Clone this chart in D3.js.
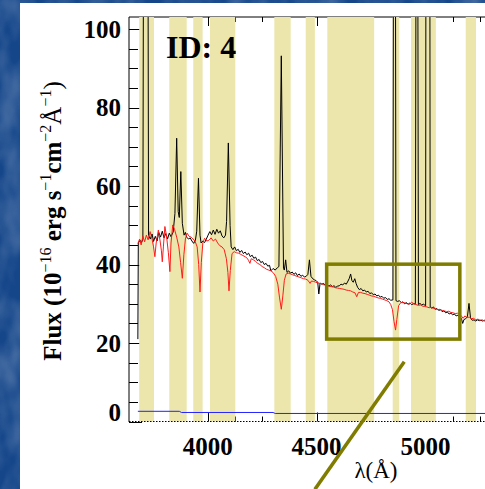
<!DOCTYPE html>
<html>
<head>
<meta charset="utf-8">
<script src="https://cdn.jsdelivr.net/npm/d3@7"></script>
<style>
  html, body { margin: 0; padding: 0; background: #1a4d8f; }
  svg { display: block; }
</style>
</head>
<body>
<svg id="chart" width="485" height="489"></svg>
<script>
// Fitting windows (Å): start / end of each shaded range
const bandStart = [3686, 3824, 3934, 4011, 4306, 4450, 4549, 4849, 4933, 5184];
const bandEnd   = [3754, 3904, 3977, 4127, 4381, 4492, 4764, 4879, 5047, 5231];

// Observed spectrum: wavelength (Å) and flux (1e-16 erg/s/cm2/Å)
const obsWave = [3680,3682,3690,3697,3703,3716,3729,3737,3745,3752,3760,3768,3776,3784,3792,3800,3808,3816,3824,3832,3842,3850,3858,3865,3870,3877,3884,3892,3898,3904,3912,3920,3928,3936,3944,3950,3958,3965,3970,3978,3986,3994,4002,4010,4018,4026,4034,4042,4050,4058,4066,4074,4082,4087,4095,4103,4108,4116,4124,4132,4140,4148,4156,4164,4172,4180,4188,4196,4204,4212,4220,4228,4236,4244,4252,4260,4268,4276,4284,4290,4300,4310,4320,4327,4338,4348,4352,4358,4364,4372,4380,4388,4396,4404,4412,4420,4428,4436,4444,4452,4460,4467,4474,4482,4490,4498,4505,4510,4516,4524,4532,4540,4548,4556,4564,4572,4580,4588,4596,4604,4612,4620,4628,4636,4644,4650,4656,4662,4668,4675,4681,4688,4696,4704,4712,4720,4728,4736,4744,4752,4760,4768,4776,4784,4792,4800,4808,4816,4824,4832,4840,4850,4857,4864,4872,4880,4888,4896,4904,4912,4920,4928,4936,4944,4953,4960,4967,4974,4982,4990,5000,5010,5021,5028,5036,5044,5052,5060,5068,5076,5084,5092,5100,5108,5116,5124,5132,5140,5148,5156,5164,5170,5176,5184,5192,5199,5206,5214,5222,5230,5238,5246,5254,5262,5270,5278,5290];
const obsFlux = [21.0,45.5,46.2,45.6,46.5,420,47.5,46.5,47.8,45.9,47.2,46.0,48.2,47.0,48.5,46.8,47.9,46.5,48.0,47.1,48.3,53.0,72.2,53.5,52.0,63.7,50.5,47.5,48.2,47.0,46.5,46.8,46.0,45.4,46.2,48.5,62.0,47.5,45.5,46.0,45.6,46.5,47.5,48.4,47.6,48.8,47.7,49.0,48.0,48.6,47.3,46.8,47.5,51.0,71.0,50.0,44.5,43.8,44.5,43.5,43.9,43.1,43.6,42.8,43.2,42.5,42.9,42.0,42.4,41.6,41.9,41.0,41.3,40.5,40.8,40.0,40.3,39.6,39.8,38.4,39.0,38.6,39.2,39.5,93.2,39.0,38.6,41.2,38.0,38.4,37.8,38.1,37.5,37.9,37.2,37.6,37.0,37.3,36.8,37.0,37.5,41.2,37.0,36.4,36.1,35.9,35.5,32.5,35.3,35.0,35.2,34.7,35.0,34.5,34.8,34.4,34.6,34.2,34.5,34.6,35.0,34.8,35.3,35.0,35.8,36.5,37.6,35.9,35.5,36.4,35.2,34.2,33.6,33.9,33.3,33.5,33.0,33.2,32.6,32.8,32.3,32.5,32.0,32.2,31.7,31.9,31.4,31.6,31.1,31.3,30.9,31.0,300,30.8,30.6,30.8,30.3,30.5,30.0,30.3,29.9,30.2,29.8,30.0,30.0,250,29.8,30.1,29.7,29.9,29.5,700,29.2,28.9,29.2,28.6,28.8,28.3,28.5,28.0,28.2,27.7,27.9,27.4,27.6,27.2,27.4,26.9,27.1,26.6,26.3,25.0,26.0,26.2,26.8,30.1,26.4,25.8,25.9,25.6,25.9,25.7,25.8,25.6,25.8,25.6,25.7];

// Model continuum fit
const modWave = [3680,3688,3695,3703,3711,3719,3727,3736,3745,3752,3758,3764,3774,3782,3788,3792,3797,3804,3812,3820,3827,3832,3840,3848,3858,3868,3876,3884,3891,3898,3906,3915,3924,3933,3942,3952,3959,3965,3971,3978,3986,3996,4006,4016,4026,4036,4046,4056,4066,4076,4086,4093,4098,4104,4112,4122,4132,4142,4152,4162,4172,4182,4188,4194,4200,4210,4220,4230,4240,4250,4260,4270,4280,4290,4300,4312,4322,4330,4338,4345,4352,4360,4370,4380,4390,4400,4410,4420,4430,4440,4450,4460,4470,4476,4486,4496,4506,4516,4526,4536,4546,4556,4566,4576,4586,4596,4606,4616,4626,4636,4646,4656,4666,4676,4684,4692,4702,4712,4722,4732,4742,4752,4762,4772,4782,4792,4802,4812,4822,4832,4840,4848,4855,4862,4868,4876,4886,4896,4906,4916,4926,4936,4946,4956,4966,4976,4986,4996,5006,5016,5026,5036,5046,5056,5066,5076,5086,5096,5106,5116,5126,5136,5146,5156,5166,5172,5180,5190,5200,5210,5220,5230,5240,5250,5260,5270,5280,5290];
const modFlux = [45.4,46.5,45.0,47.2,45.8,47.5,46.3,48.4,46.5,44.5,42.0,45.5,48.8,46.0,43.5,40.7,44.5,49.7,47.0,43.0,38.2,45.5,50.1,49.0,47.0,44.5,40.5,36.5,42.5,46.5,48.0,47.2,47.0,46.5,46.0,44.5,40.0,33.0,40.5,45.5,46.7,46.0,46.2,46.8,46.0,46.5,45.5,44.8,44.5,43.8,41.5,38.0,33.3,38.5,42.8,43.3,43.0,42.9,42.6,42.3,42.0,41.6,41.0,40.3,41.5,41.2,40.8,40.3,40.0,39.5,39.2,38.8,38.6,38.4,38.0,37.0,35.0,31.5,28.6,32.0,36.0,37.6,37.8,37.6,37.4,37.2,37.0,36.8,36.6,36.4,36.3,36.0,35.2,35.8,35.7,35.5,35.3,35.2,35.0,34.8,34.7,34.5,34.4,34.3,34.1,34.0,33.9,33.8,33.7,33.5,33.4,33.3,33.0,32.8,31.8,32.9,32.9,32.7,32.6,32.4,32.2,32.0,31.9,31.7,31.5,31.4,31.2,31.0,30.8,30.5,29.8,28.5,25.5,23.3,26.0,29.5,30.3,30.3,30.2,30.0,29.9,30.4,30.0,29.8,29.6,29.7,29.4,29.3,29.2,29.0,29.1,28.8,28.7,28.5,28.6,28.3,28.2,28.0,28.1,27.8,27.7,27.5,27.6,27.3,26.8,26.3,26.9,26.5,26.6,26.2,26.3,25.9,26.1,25.8,25.9,25.6,25.7,25.6];

// Flux uncertainty
const errWave = [3680, 3870, 3880, 4300, 4310, 5290];
const errFlux = [2.6, 2.6, 2.3, 2.3, 2.05, 2.05];

// Axis ticks
const xMajor = [4000, 4500, 5000];
const xMinor = [3750, 3875, 4125, 4250, 4375, 4625, 4750, 4875, 5125, 5250];
const yMajor = [0, 20, 40, 60, 80, 100];
const yMinor = [5, 10, 15, 25, 30, 35, 45, 50, 55, 65, 70, 75, 85, 90, 95];

// Highlighted region and pointer
const boxWave = [4546, 5157];
const boxFlux = [21.0, 40.1];
const pointerWave = [4902, 4492];
const pointerFlux = [15.2, -17.3];

const W = 485, H = 489;
const plot = { left: 129, top: 17, right: 487, bottom: 421.5 };
const serif = "'Liberation Serif', 'Times New Roman', serif";

const x = d3.scaleLinear().domain([3639.3, 5281.6]).range([plot.left, plot.right]);
const y = d3.scaleLinear().domain([0, 103.1]).range([plot.bottom, plot.top]);

const svg = d3.select("#chart");
const defs = svg.append("defs");

// Mottled slide background
const tex = defs.append("filter").attr("id", "mottle").attr("x", 0).attr("y", 0).attr("width", 1).attr("height", 1);
tex.append("feTurbulence").attr("type", "fractalNoise").attr("baseFrequency", "0.035 0.02").attr("numOctaves", 3).attr("seed", 7);
tex.append("feColorMatrix").attr("type", "matrix")
  .attr("values", "0 0 0 0 1  0 0 0 0 1  0 0 0 0 1  0.9 0 0 0 -0.33");
svg.append("rect").attr("width", W).attr("height", H).attr("fill", "#15468a");
svg.append("rect").attr("width", W).attr("height", H).attr("filter", "url(#mottle)").attr("opacity", 0.5);

// White slide panel
svg.append("rect").attr("x", 20).attr("y", 3).attr("width", W - 20).attr("height", H - 3).attr("fill", "#ffffff");

defs.append("clipPath").attr("id", "plotclip").append("rect")
  .attr("x", plot.left).attr("y", plot.top)
  .attr("width", plot.right - plot.left).attr("height", plot.bottom - plot.top);

const axes = svg.append("g").attr("stroke", "#000").attr("stroke-width", 1).attr("fill", "none");
// Frame lines (left and top)
axes.append("line").attr("x1", plot.left).attr("x2", plot.left).attr("y1", plot.top).attr("y2", plot.bottom + 0.5);
axes.append("line").attr("x1", plot.left).attr("x2", W).attr("y1", plot.top).attr("y2", plot.top);

// X ticks, top and bottom, pointing inward
const xt = (vals, len) => {
  vals.forEach(v => {
    const px = Math.round(x(v)) + 0.5;
    axes.append("line").attr("x1", px).attr("x2", px).attr("y1", plot.top).attr("y2", plot.top + len);
    axes.append("line").attr("x1", px).attr("x2", px).attr("y1", plot.bottom).attr("y2", plot.bottom - len);
  });
};
xt(xMajor, 9);
xt(xMinor, 5);

// Y ticks on the left, pointing inward
yMajor.forEach(v => {
  const py = Math.round(y(v)) + 0.5;
  axes.append("line").attr("x1", plot.left).attr("x2", plot.left + 13).attr("y1", py).attr("y2", py);
});
yMinor.forEach(v => {
  const py = Math.round(y(v)) + 0.5;
  axes.append("line").attr("x1", plot.left).attr("x2", plot.left + 9).attr("y1", py).attr("y2", py);
});

// Shaded fitting windows
const inner = svg.append("g").attr("clip-path", "url(#plotclip)");
inner.selectAll("rect.band").data(d3.range(bandStart.length)).join("rect")
  .attr("class", "band")
  .attr("x", i => x(bandStart[i]))
  .attr("width", i => x(bandEnd[i]) - x(bandStart[i]))
  .attr("y", plot.top - 1)
  .attr("height", plot.bottom - plot.top + 2)
  .attr("fill", "#ece6ac");

// Zero level, dotted
svg.append("line")
  .attr("x1", plot.left).attr("x2", W)
  .attr("y1", y(0)).attr("y2", y(0))
  .attr("stroke", "#000").attr("stroke-width", 1.2).attr("stroke-dasharray", "1.5,1.5");

const lineGen = (wave, flux) => d3.line().x(i => x(wave[i])).y(i => y(flux[i]))(d3.range(wave.length));

inner.append("path").attr("d", lineGen(errWave, errFlux))
  .attr("fill", "none").attr("stroke", "#2222ff").attr("stroke-width", 1);
inner.append("path").attr("d", lineGen(obsWave, obsFlux))
  .attr("fill", "none").attr("stroke", "#000").attr("stroke-width", 1).attr("stroke-linejoin", "round");
inner.append("path").attr("d", lineGen(modWave, modFlux))
  .attr("fill", "none").attr("stroke", "#ff1a1a").attr("stroke-width", 1).attr("stroke-linejoin", "round");

// Tick labels
const lab = svg.append("g").attr("font-family", serif).attr("font-weight", "bold").attr("font-size", 25).attr("fill", "#000");
yMajor.forEach(v => {
  lab.append("text").attr("x", 121).attr("y", y(v) + (v === 0 ? -9 : 0)).attr("dy", "0.34em")
    .attr("text-anchor", "end").text(v);
});
xMajor.forEach(v => {
  lab.append("text").attr("x", x(v)).attr("y", 455).attr("text-anchor", "middle").text(v);
});

// Axis titles
svg.append("text").attr("x", 376).attr("y", 478).attr("text-anchor", "middle")
  .attr("font-family", serif).attr("font-size", 23).attr("fill", "#000").text("λ(Å)");

const yt = svg.append("text")
  .attr("transform", "translate(61,221) rotate(-90)")
  .attr("text-anchor", "middle")
  .attr("font-family", serif).attr("font-size", 25).attr("font-weight", "bold").attr("fill", "#000");
const parts = [
  ["Flux (10", 0, "bold", 25],
  ["\u221216", -10, "normal", 16],
  [" erg s", 10, "bold", 25],
  ["\u22121", -10, "normal", 16],
  ["cm", 10, "bold", 25],
  ["\u22122", -10, "normal", 16],
  ["Å", 10, "normal", 25],
  ["\u22121", -10, "normal", 16],
  [")", 10, "normal", 25]
];
parts.forEach(([t, dy, w, fs]) => {
  yt.append("tspan").attr("dy", dy).attr("font-weight", w).attr("font-size", fs).text(t);
});

// Panel label
svg.append("text").attr("x", 166).attr("y", 58)
  .attr("font-family", serif).attr("font-weight", "bold").attr("font-size", 32).attr("fill", "#000")
  .text("ID: 4");

// Highlight box and pointer
svg.append("rect")
  .attr("x", x(boxWave[0])).attr("y", y(boxFlux[1]))
  .attr("width", x(boxWave[1]) - x(boxWave[0]))
  .attr("height", y(boxFlux[0]) - y(boxFlux[1]))
  .attr("fill", "none").attr("stroke", "#7f7c00").attr("stroke-width", 3.5);
svg.append("line")
  .attr("x1", x(pointerWave[0])).attr("y1", y(pointerFlux[0]))
  .attr("x2", x(pointerWave[1])).attr("y2", y(pointerFlux[1]))
  .attr("stroke", "#7f7c00").attr("stroke-width", 3.5);
</script>
</body>
</html>
